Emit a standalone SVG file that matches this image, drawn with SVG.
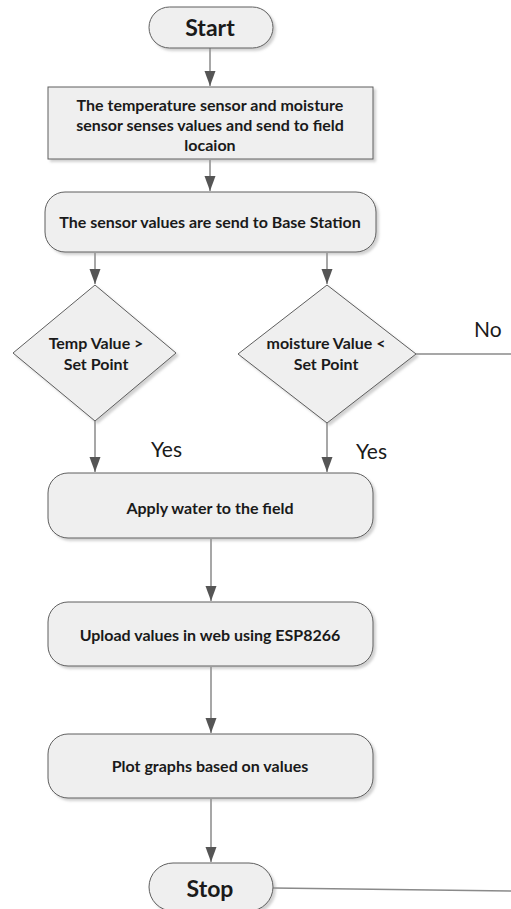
<svg xmlns="http://www.w3.org/2000/svg" width="511" height="909" viewBox="0 0 511 909">
  <style>
    .shape { fill: #efefef; stroke: #5e5e5e; stroke-width: 1; filter: url(#shadow); }
    .lbl { font-family: Lato, "Liberation Sans", sans-serif; font-weight: bold; fill: #1a1a1a; text-anchor: middle; }
    .big { font-size: 23px; }
    .mid { font-size: 16px; }
    .cond { font-family: Lato, "Liberation Sans", sans-serif; font-size: 21px; fill: #1a1a1a; }
    .wire { stroke: #8a8a8a; stroke-width: 1.5; fill: none; }
  </style>
  <defs>
    <filter id="shadow" x="-10%" y="-10%" width="125%" height="130%">
      <feDropShadow dx="2.5" dy="2.5" stdDeviation="1.2" flood-color="#9a9a9a" flood-opacity="0.45"/>
    </filter>
    <marker id="headV" markerWidth="12" markerHeight="15" refX="6" refY="15" orient="0" markerUnits="userSpaceOnUse" viewBox="0 0 12 15">
      <path d="M0.5,0 L11.5,0 L6,15 Z" fill="#555555"/>
    </marker>
  </defs>

  <!-- connectors -->
  <g id="connectors">
    <line class="wire" x1="210" y1="48" x2="210" y2="86" marker-end="url(#headV)"/>
    <line class="wire" x1="210" y1="160" x2="210" y2="191" marker-end="url(#headV)"/>
    <line class="wire" x1="95" y1="253" x2="95" y2="284" marker-end="url(#headV)"/>
    <line class="wire" x1="327" y1="253" x2="327" y2="284" marker-end="url(#headV)"/>
    <line class="wire" x1="95" y1="421" x2="95" y2="472" marker-end="url(#headV)"/>
    <line class="wire" x1="327" y1="423" x2="327" y2="472" marker-end="url(#headV)"/>
    <line class="wire" x1="211" y1="539" x2="211" y2="601" marker-end="url(#headV)"/>
    <line class="wire" x1="211" y1="667" x2="211" y2="733" marker-end="url(#headV)"/>
    <line class="wire" x1="211" y1="799" x2="211" y2="862" marker-end="url(#headV)"/>
    <!-- "No" branch -->
    <line class="wire" x1="416" y1="354" x2="511" y2="354"/>
    <!-- line leaving Stop -->
    <line class="wire" x1="273" y1="888" x2="511" y2="891"/>
    <text class="cond" x="474" y="337">No</text>
    <text class="cond" x="151" y="457">Yes</text>
    <text class="cond" x="356" y="459">Yes</text>
  </g>

  <g id="start">
    <rect class="shape" x="149" y="7" width="124" height="41" rx="20.5"/>
    <text class="lbl big" x="210" y="35.5">Start</text>
  </g>

  <g id="sense">
    <rect class="shape" x="48" y="87" width="325" height="72"/>
    <text class="lbl mid" x="210" y="110.5">The temperature sensor and moisture</text>
    <text class="lbl mid" x="210" y="130.5">sensor senses values and send to field</text>
    <text class="lbl mid" x="210" y="150.5">locaion</text>
  </g>

  <g id="send">
    <rect class="shape" x="45" y="192" width="331" height="60" rx="20"/>
    <text class="lbl mid" x="210" y="227.5">The sensor values are send to Base Station</text>
  </g>

  <g id="temp-check">
    <polygon class="shape" points="95,285 176,353 95,421 13,353"/>
    <text class="lbl mid" x="96" y="348.5">Temp Value &gt;</text>
    <text class="lbl mid" x="96" y="369.5">Set Point</text>
  </g>

  <g id="moisture-check">
    <polygon class="shape" points="327,285 416,354 327,423 238,354"/>
    <text class="lbl mid" x="326" y="348.5">moisture Value &lt;</text>
    <text class="lbl mid" x="326" y="369.5">Set Point</text>
  </g>

  <g id="apply">
    <rect class="shape" x="48" y="473" width="325" height="65" rx="20"/>
    <text class="lbl mid" x="210" y="513.5">Apply water to the field</text>
  </g>

  <g id="upload">
    <rect class="shape" x="48" y="602" width="325" height="64" rx="20"/>
    <text class="lbl mid" x="210" y="640.5">Upload values in web using ESP8266</text>
  </g>

  <g id="plot">
    <rect class="shape" x="48" y="734" width="325" height="64" rx="20"/>
    <text class="lbl mid" x="210" y="771.5">Plot graphs based on values</text>
  </g>

  <g id="stop">
    <rect class="shape" x="149" y="863" width="124" height="48" rx="24"/>
    <text class="lbl big" x="210" y="897">Stop</text>
  </g>
</svg>
